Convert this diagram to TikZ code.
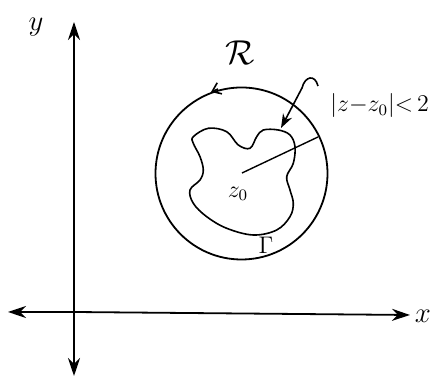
\documentclass[tikz,border=0pt]{standalone}
\usetikzlibrary{arrows.meta}
\begin{document}
\begin{tikzpicture}[x=0.5pt,y=-0.5pt,
  axis/.style={line width=0.9pt,-{Stealth[length=9pt,width=6pt]}},
  curve/.style={line width=0.8pt},
  lbl/.style={inner sep=0pt,font=\normalsize}]
\useasboundingbox (0,0) rectangle (435,378);
% axes
\coordinate (o) at (74,312);
\coordinate (ytop) at (74,22);
\coordinate (ybot) at (74,376);
\coordinate (xleft) at (8,312);
\coordinate (xright) at (410,315);
\draw[axis] (o) -- (ytop);
\draw[axis] (o) -- (ybot);
\draw[axis] (o) -- (xleft);
\draw[axis] (o) -- (xright);
\node[lbl,font=\Large] (ylab) at (36,27) {$y$};
\node[lbl,font=\Large] (xlab) at (423,316) {$x$};
% circle Gamma
\node[circle,draw,line width=0.9pt,minimum size=86pt,inner sep=0pt] (gam) at (241.5,173.5) {};
\draw[line width=0.8pt,-{Straight Barb[length=4pt,width=6pt]}] (218,89) -- (211,92);
% inner region
\draw[curve] plot[smooth cycle,tension=0.6] coordinates {
 (193.3,136.7) (208.3,128.3) (226.7,131.7) (238.3,145) (250,148.3)
 (256.7,136.7) (263.3,130) (278.3,130) (290,135) (295,146.7)
 (293.3,163.3) (286.7,176.7) (290,190) (293.3,203.3) (290,216.7)
 (276.7,230) (253.3,235) (226.7,228.3) (206.7,216.7) (193.3,203.3)
 (190,190) (200,180) (203.3,170) (200,156.7) (193.3,143.3)};
% centre and radius
\coordinate (z0) at (242,173);
\coordinate (rim) at (318,137);
\draw[line width=0.7pt] (z0) -- (rim);
\node[lbl,font=\large] (z0lab) at (238,194) {$z_0$};
\node[lbl,font=\large] (gamlab) at (266,245) {$\Gamma$};
\node[lbl,font=\LARGE] (omlab) at (240,53) {$\mathcal{R}$};
% disc label and pointer
\node[lbl,font=\large,anchor=west] (disk) at (330,106) {$|z{-}z_0|{<}\,2$};
\coordinate (tail) at (318,86);
\coordinate (tip) at (281,128);
\draw[line width=0.8pt,-{Stealth[length=7pt,width=5pt]}] (tail) .. controls (315,74) and (305,76) .. (302,88) -- (tip);
\end{tikzpicture}
\end{document}
